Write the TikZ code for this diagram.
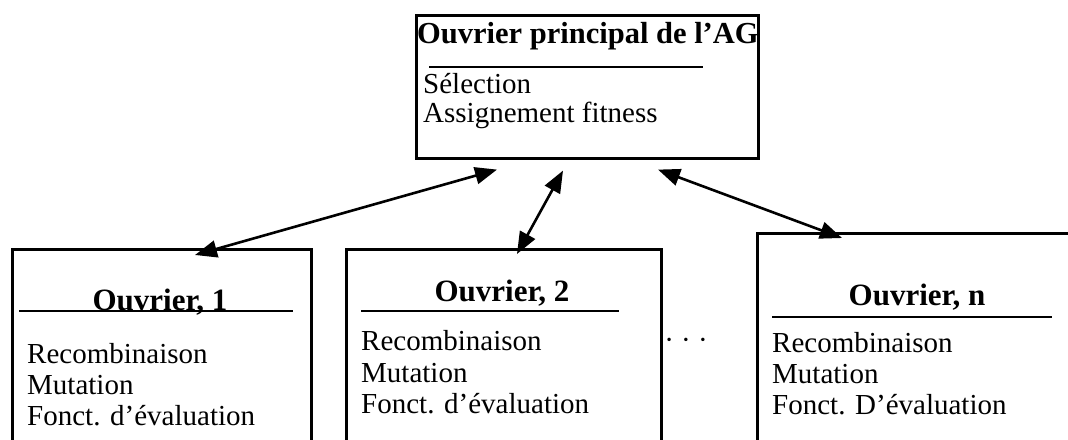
\documentclass[tikz,border=0pt]{standalone}
\usepackage{fontspec}
\setmainfont{Liberation Serif}
\usetikzlibrary{arrows.meta}
\begin{document}
\begin{tikzpicture}[x=1pt,y=-1pt,
  box/.style={draw,line width=2.6pt,rectangle,inner sep=0pt,anchor=north west},
  title/.style={font=\fontsize{31}{34}\selectfont\bfseries,anchor=base,inner sep=0pt},
  item/.style={font=\fontsize{29}{33}\selectfont,anchor=base west,inner sep=0pt},
  rule/.style={line width=2.6pt},
  link/.style={line width=2.6pt,{Triangle[length=22pt,width=17pt]}-{Triangle[length=22pt,width=17pt]}}]
\clip (0,0) rectangle (1068,439);

% master process
\node[box,minimum width=342pt,minimum height=143pt] (main) at (415,14) {};
\node[title,font=\fontsize{30.5}{34}\selectfont\bfseries,anchor=base west] (mainT) at (417,43) {Ouvrier principal de l’AG};
\draw[rule] (429,67) -- (703,67);
\node[item] (m1) at (423,93) {Sélection};
\node[item] (m2) at (423,122) {Assignement fitness};

% worker 1
\node[box,minimum width=299pt,minimum height=300pt] (w1) at (11,248) {};
\node[title] (w1T) at (160,310) {Ouvrier, 1};
\draw[rule] (19,311) -- (293,311);
\node[item] (a1) at (27,363) {Recombinaison};
\node[item] (a2) at (27,394) {Mutation};
\node[item] (a3) at (27,425) {Fonct. d’évaluation};

% worker 2
\node[box,minimum width=315pt,minimum height=300pt] (w2) at (345,248) {};
\node[title] (w2T) at (502,301) {Ouvrier, 2};
\draw[rule] (361,311) -- (619,311);
\node[item] (b1) at (361,350) {Recombinaison};
\node[item] (b2) at (361,382) {Mutation};
\node[item] (b3) at (361,413) {Fonct. d’évaluation};

% ellipsis between workers
\node[font=\fontsize{29}{33}\selectfont,inner sep=0pt,anchor=base] (dots) at (686,349) {· · ·};

% worker n
\node[box,minimum width=400pt,minimum height=300pt] (wn) at (756,232) {};
\node[title] (wnT) at (917,305) {Ouvrier, n};
\draw[rule] (772,317) -- (1052,317);
\node[item] (c1) at (772,352) {Recombinaison};
\node[item] (c2) at (772,383) {Mutation};
\node[item] (c3) at (772,414) {Fonct. D’évaluation};

% connector end points
\coordinate (p1) at ([shift={(82pt,-10pt)}]main.south west);
\coordinate (p2) at ([shift={(148pt,-11pt)}]main.south west);
\coordinate (p3) at ([shift={(243pt,-10pt)}]main.south west);
\coordinate (q1) at ([shift={(184pt,-7pt)}]w1.north west);
\coordinate (q2) at ([shift={(172pt,-6pt)}]w2.north west);
\coordinate (q3) at ([shift={(86pt,-6pt)}]wn.north west);

\draw[link] (q1) -- (p1);
\draw[link] (q2) -- (p2);
\draw[link] (q3) -- (p3);
\end{tikzpicture}
\end{document}
